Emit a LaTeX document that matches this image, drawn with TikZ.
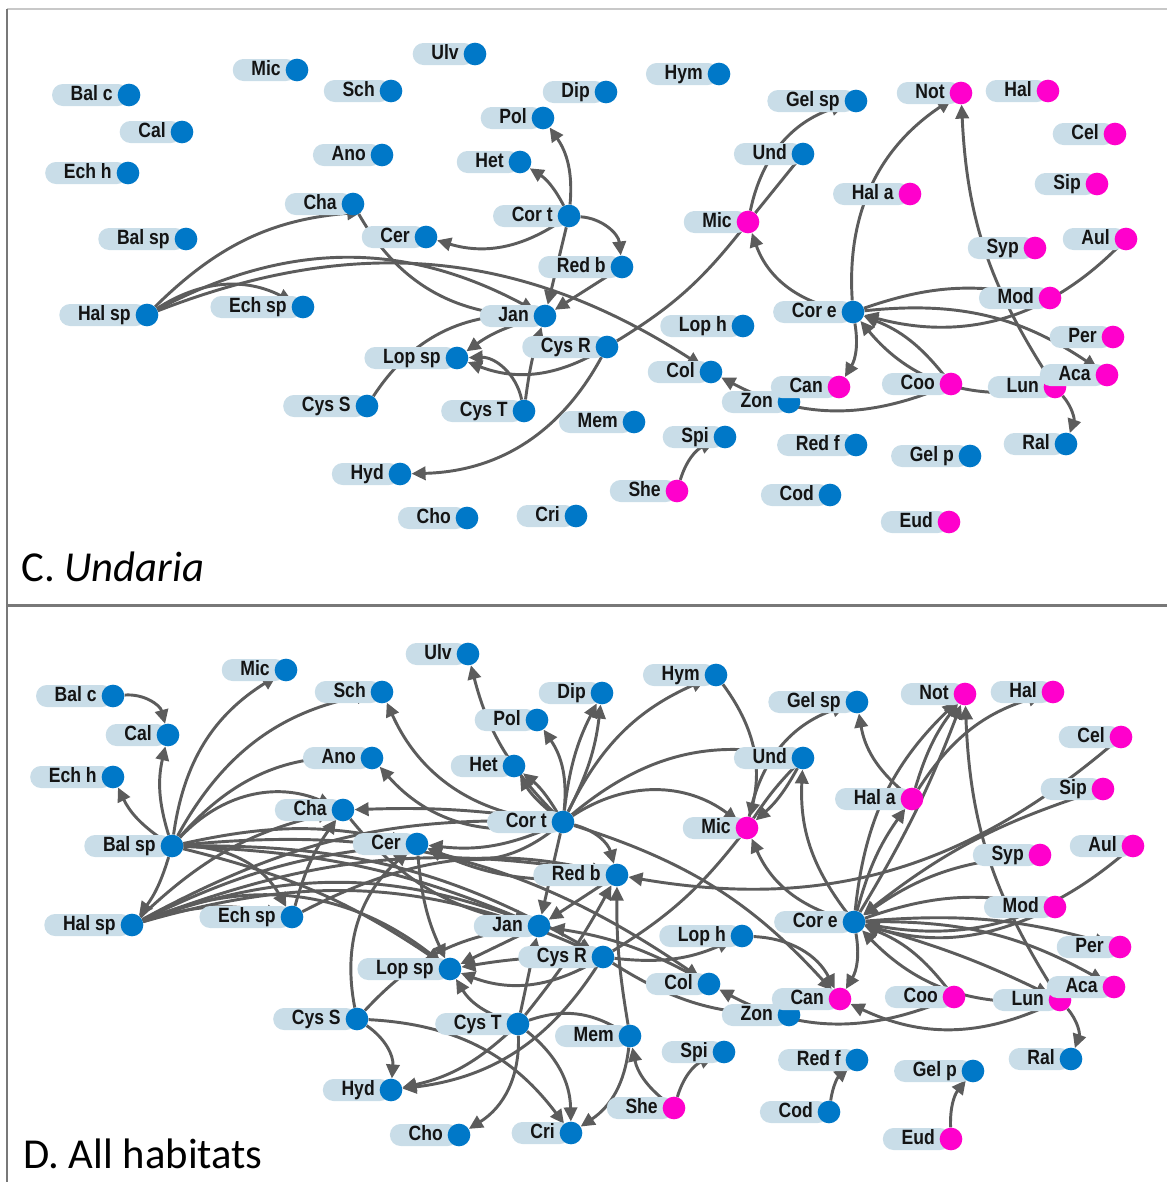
\documentclass[tikz,border=0pt]{standalone}
\usepackage{fontspec}
\newfontfamily\lblfont{Liberation Sans}[FakeStretch=0.85]
\newfontfamily\ttlfont{Carlito}
\usetikzlibrary{arrows.meta}
\pgfdeclarelayer{bg}
\pgfsetlayers{bg,main}
\definecolor{pillc}{RGB}{201,221,232}
\definecolor{bluec}{RGB}{0,120,200}
\definecolor{magc}{RGB}{255,0,204}
\definecolor{edgec}{RGB}{92,92,92}
\definecolor{txtc}{RGB}{20,20,20}
\definecolor{framelt}{RGB}{200,200,200}
\definecolor{framedk}{RGB}{120,120,120}
\newcommand\mknode[5]{%
 \node[pill, anchor=east] (#1p) at (#2,-#3) {\hspace*{14pt}#4\hspace*{12pt}};
 \node[dot, fill=#5] (#1) at (#2,-#3) {};}
\tikzset{
 pill/.style={fill=pillc, rounded corners=8pt, inner sep=0pt, minimum height=16.5pt,
   text height=11pt, text depth=3pt, text=txtc,
   font=\lblfont\bfseries\fontsize{15.5pt}{17pt}\selectfont},
 dot/.style={circle, inner sep=0pt, minimum size=17pt},
 ed/.style={draw=edgec, line width=2.2pt},
 ar/.style={ed, -{Triangle[length=10.5pt,width=10pt]}},
 ttl/.style={anchor=base west, inner sep=0pt, font=\ttlfont\fontsize{32pt}{38pt}\selectfont}
}
\begin{document}
\begin{tikzpicture}[x=0.75pt,y=0.75pt]
\useasboundingbox (0,0) rectangle (1167,-1182);
% frame
\draw[framelt, line width=1.5pt] (7,-9) -- (1167,-9);
\draw[framedk, line width=1.5pt] (7,-9) -- (7,-1182);
\draw[framedk, line width=2pt] (7,-605.5) -- (1167,-605.5);
\node[ttl] (tc) at (21,-581) {C. \textit{Undaria}};
\node[ttl] (td) at (23,-1168) {D. All habitats};

% ---------------- panel C nodes
\mknode{c-balc}{129}{95}{Bal c}{bluec}
\mknode{c-cal}{182}{132}{Cal}{bluec}
\mknode{c-echh}{128}{173}{Ech h}{bluec}
\mknode{c-balsp}{186}{239}{Bal sp}{bluec}
\mknode{c-halsp}{147}{315}{Hal sp}{bluec}
\mknode{c-echsp}{303}{307}{Ech sp}{bluec}
\mknode{c-mic}{297}{70}{Mic}{bluec}
\mknode{c-sch}{391}{91}{Sch}{bluec}
\mknode{c-ulv}{475}{54}{Ulv}{bluec}
\mknode{c-ano}{382}{155}{Ano}{bluec}
\mknode{c-cha}{353}{204}{Cha}{bluec}
\mknode{c-cer}{426}{237}{Cer}{bluec}
\mknode{c-dip}{606}{92}{Dip}{bluec}
\mknode{c-pol}{543}{118}{Pol}{bluec}
\mknode{c-het}{520}{162}{Het}{bluec}
\mknode{c-cort}{569}{216}{Cor t}{bluec}
\mknode{c-redb}{622}{267}{Red b}{bluec}
\mknode{c-jan}{545}{316}{Jan}{bluec}
\mknode{c-cysr}{607}{347}{Cys R}{bluec}
\mknode{c-lopsp}{457}{358}{Lop sp}{bluec}
\mknode{c-cyss}{367}{406}{Cys S}{bluec}
\mknode{c-cyst}{524}{411}{Cys T}{bluec}
\mknode{c-mem}{634}{422}{Mem}{bluec}
\mknode{c-hyd}{400}{474}{Hyd}{bluec}
\mknode{c-cho}{467}{518}{Cho}{bluec}
\mknode{c-cri}{576}{516}{Cri}{bluec}
\mknode{c-hym}{719}{74}{Hym}{bluec}
\mknode{c-gelsp}{856}{101}{Gel sp}{bluec}
\mknode{c-und}{803}{154}{Und}{bluec}
\mknode{c-micm}{748}{222}{Mic}{magc}
\mknode{c-not}{961}{93}{Not}{magc}
\mknode{c-hal}{1048}{91}{Hal}{magc}
\mknode{c-cel}{1115}{134}{Cel}{magc}
\mknode{c-sip}{1097}{184}{Sip}{magc}
\mknode{c-hala}{910}{194}{Hal a}{magc}
\mknode{c-syp}{1035}{248}{Syp}{magc}
\mknode{c-aul}{1126}{239}{Aul}{magc}
\mknode{c-mod}{1050}{298}{Mod}{magc}
\mknode{c-core}{853}{312}{Cor e}{bluec}
\mknode{c-loph}{743}{326}{Lop h}{bluec}
\mknode{c-per}{1113}{337}{Per}{magc}
\mknode{c-col}{711}{372}{Col}{bluec}
\mknode{c-zon}{789}{402}{Zon}{bluec}
\mknode{c-can}{839}{387}{Can}{magc}
\mknode{c-coo}{951}{384}{Coo}{magc}
\mknode{c-lun}{1055}{387}{Lun}{magc}
\mknode{c-aca}{1107}{375}{Aca}{magc}
\mknode{c-spi}{725}{437}{Spi}{bluec}
\mknode{c-redf}{856}{445}{Red f}{bluec}
\mknode{c-ral}{1066}{444}{Ral}{bluec}
\mknode{c-gelp}{970}{456}{Gel p}{bluec}
\mknode{c-she}{677}{491}{She}{magc}
\mknode{c-cod}{830}{495}{Cod}{bluec}
\mknode{c-eud}{949}{522}{Eud}{magc}

% ---------------- panel D nodes
\mknode{d-balc}{113}{696}{Bal c}{bluec}
\mknode{d-cal}{168}{735}{Cal}{bluec}
\mknode{d-echh}{113}{777}{Ech h}{bluec}
\mknode{d-balsp}{172}{846}{Bal sp}{bluec}
\mknode{d-halsp}{132}{925}{Hal sp}{bluec}
\mknode{d-echsp}{292}{917}{Ech sp}{bluec}
\mknode{d-mic}{286}{670}{Mic}{bluec}
\mknode{d-sch}{382}{692}{Sch}{bluec}
\mknode{d-ulv}{468}{654}{Ulv}{bluec}
\mknode{d-ano}{372}{758}{Ano}{bluec}
\mknode{d-cha}{343}{810}{Cha}{bluec}
\mknode{d-cer}{417}{844}{Cer}{bluec}
\mknode{d-dip}{602}{693}{Dip}{bluec}
\mknode{d-pol}{537}{720}{Pol}{bluec}
\mknode{d-het}{514}{766}{Het}{bluec}
\mknode{d-cort}{563}{822}{Cor t}{bluec}
\mknode{d-hym}{716}{675}{Hym}{bluec}
\mknode{d-redb}{617}{875}{Red b}{bluec}
\mknode{d-jan}{539}{926}{Jan}{bluec}
\mknode{d-cysr}{603}{957}{Cys R}{bluec}
\mknode{d-lopsp}{450}{969}{Lop sp}{bluec}
\mknode{d-cyss}{357}{1019}{Cys S}{bluec}
\mknode{d-cyst}{518}{1024}{Cys T}{bluec}
\mknode{d-mem}{630}{1036}{Mem}{bluec}
\mknode{d-hyd}{391}{1090}{Hyd}{bluec}
\mknode{d-cho}{459}{1135}{Cho}{bluec}
\mknode{d-cri}{571}{1133}{Cri}{bluec}
\mknode{d-she}{674}{1108}{She}{magc}
\mknode{d-spi}{724}{1052}{Spi}{bluec}
\mknode{d-gelsp}{857}{702}{Gel sp}{bluec}
\mknode{d-und}{803}{758}{Und}{bluec}
\mknode{d-micm}{747}{828}{Mic}{magc}
\mknode{d-not}{965}{694}{Not}{magc}
\mknode{d-hal}{1053}{692}{Hal}{magc}
\mknode{d-cel}{1121}{737}{Cel}{magc}
\mknode{d-sip}{1103}{789}{Sip}{magc}
\mknode{d-hala}{912}{799}{Hal a}{magc}
\mknode{d-syp}{1040}{855}{Syp}{magc}
\mknode{d-aul}{1133}{846}{Aul}{magc}
\mknode{d-mod}{1055}{907}{Mod}{magc}
\mknode{d-core}{854}{922}{Cor e}{bluec}
\mknode{d-loph}{742}{936}{Lop h}{bluec}
\mknode{d-per}{1120}{947}{Per}{magc}
\mknode{d-col}{709}{984}{Col}{bluec}
\mknode{d-zon}{789}{1015}{Zon}{bluec}
\mknode{d-can}{840}{999}{Can}{magc}
\mknode{d-coo}{954}{997}{Coo}{magc}
\mknode{d-lun}{1060}{1000}{Lun}{magc}
\mknode{d-aca}{1114}{987}{Aca}{magc}
\mknode{d-redf}{857}{1060}{Red f}{bluec}
\mknode{d-ral}{1071}{1059}{Ral}{bluec}
\mknode{d-gelp}{973}{1071}{Gel p}{bluec}
\mknode{d-cod}{829}{1112}{Cod}{bluec}
\mknode{d-eud}{951}{1139}{Eud}{magc}

\begin{pgfonlayer}{bg}
% ---------------- panel C edges
\draw[ar] (c-halsp) to[bend left=20] (c-cha.south east);
\draw[ar] (c-halsp) to[bend left=30] (c-echsp);
\draw[ar] (c-halsp) to[bend left=28] (c-jan);
\draw[ar] (c-halsp) to[bend left=27] (c-col);
\draw[ed] (c-cha) to[bend right=30] (c-jan);
\draw[ar] (c-cort) to[bend right=20] (c-pol);
\draw[ar] (c-cort) to[bend right=15] (c-het);
\draw[ar] (c-cort) to[bend left=25] (c-cer);
\draw[ar] (c-cort) to[bend left=40] (c-redb);
\draw[ar] (c-cort) -- (c-jan);
\draw[ar] (c-redb) -- (c-jan);
\draw[ed] (c-cyss) to[bend left=30] (c-jan);
\draw[ar] (c-jan) to[bend right=10] (c-lopsp);
\draw[ar] (c-cyst) to[bend right=40] (c-lopsp);
\draw[ar] (c-cysr) to[bend left=25] (c-lopsp);
\draw[ar] (c-cyst) to[bend left=5] (c-jan);
\draw[ar] (c-cysr) to[bend left=30] (c-hyd);
\draw[ed] (c-cysr) to[bend right=10] (c-micm);
\draw[ar] (c-core) to[bend left=30] (c-micm);
\draw[ar] (c-micm) to[bend left=30] (c-gelsp);
\draw[ed] (c-micm) -- (c-und);
\draw[ar] (c-core) to[bend left=30] (c-not);
\draw[ar] (c-lun) to[bend left=15] (c-not);
\draw[ar] (c-aul) to[bend left=30] (c-core);
\draw[ed] (c-core) to[bend left=15] (c-mod);
\draw[ar] (c-core) to[bend left=20] (c-aca);
\draw[ar] (c-coo) to[bend right=15] (c-core);
\draw[ar] (c-lun) to[bend left=30] (c-core);
\draw[ar] (c-coo) to[bend left=25] (c-col);
\draw[ar] (c-core) to[bend left=20] (c-can);
\draw[ar] (c-lun) to[bend left=30] (c-ral);
\draw[ar] (c-she) to[bend left=25] (c-spi);

% ---------------- panel D edges
\draw[ar] (d-balc) to[bend left=40] (d-cal);
\draw[ar] (d-balsp) to[bend left=15] (d-cal);
\draw[ar] (d-balsp) to[bend left=15] (d-echh);
\draw[ar] (d-balsp) to[bend left=25] (d-mic);
\draw[ar] (d-balsp) to[bend left=25] (d-sch);
\draw[ar] (d-balsp) to[bend left=25] (d-ano);
\draw[ar] (d-balsp) to[bend left=35] (d-cha);
\draw[ar] (d-balsp) to[bend left=10] (d-halsp);
\draw[ar] (d-balsp) to[bend left=30] (d-echsp);
\draw[ar] (d-balsp) to[bend left=12] (d-cer);
\draw[ar] (d-balsp) to[bend left=10] (d-jan);
\draw[ar] (d-balsp) to[bend left=10] (d-lopsp);
\draw[ar] (d-balsp) to[bend left=15] (d-cysr);
\draw[ar] (d-balsp) to[bend left=20] (d-col);
\draw[ar] (d-halsp) to[bend left=15] (d-cha);
\draw[ar] (d-halsp) to[bend left=10] (d-cer);
\draw[ar] (d-halsp) to[bend left=15] (d-echsp);
\draw[ar] (d-halsp) to[bend left=30] (d-lopsp);
\draw[ar] (d-halsp) to[bend left=20] (d-jan);
\draw[ar] (d-halsp) to[bend left=20] (d-cysr);
\draw[ar] (d-halsp) to[bend left=15] (d-redb);
\draw[ar] (d-halsp) to[bend left=15] (d-cort);
\draw[ar] (d-echsp) to[bend left=10] (d-cha);
\draw[ar] (d-echsp) to[bend left=20] (d-redb);
\draw[ed] (d-cha) to[bend right=20] (d-jan);
\draw[ar] (d-cer) to[bend right=10] (d-lopsp);
\draw[ar] (d-cyss) to[bend left=30] (d-cer);
\draw[ar] (d-cyss) to[bend left=30] (d-hyd);
\draw[ed] (d-cyss) to[bend left=20] (d-jan);
\draw[ar] (d-cyss) to[bend left=25] (d-cri);
\draw[ar] (d-cort) to[bend left=30] (d-sch);
\draw[ar] (d-cort) to[bend left=30] (d-ano);
\draw[ar] (d-cort) to[bend left=15] (d-ulv);
\draw[ar] (d-cort) to[bend right=10] (d-het);
\draw[ar] (d-cort) to[bend left=10] (d-het);
\draw[ar] (d-cort) to[bend right=20] (d-pol);
\draw[ar] (d-cort) to[bend right=10] (d-dip);
\draw[ar] (d-cort) to[bend left=10] (d-dip);
\draw[ar] (d-cort) to[bend left=20] (d-hym);
\draw[ar] (d-cort) to[bend left=35] (d-micm);
\draw[ar] (d-cort) to[bend left=25] (d-und);
\draw[ar] (d-cort) to[bend left=15] (d-cer);
\draw[ar] (d-cort) to[bend left=30] (d-cer);
\draw[ar] (d-cort) to[bend right=5] (d-cha);
\draw[ar] (d-cort) to[bend left=30] (d-redb);
\draw[ar] (d-cort) to[bend left=15] (d-can);
\draw[ar] (d-cort) -- (d-jan);
\draw[ar] (d-redb) to[bend left=15] (d-cer);
\draw[ar] (d-redb) -- (d-jan);
\draw[ar] (d-hym) to[bend left=25] (d-micm);
\draw[ar] (d-und) to[bend left=10] (d-micm);
\draw[ed] (d-micm) to[bend left=5] (d-und);
\draw[ar] (d-micm) to[bend left=30] (d-gelsp);
\draw[ar] (d-core) to[bend left=20] (d-und);
\draw[ar] (d-core) to[bend left=25] (d-micm);
\draw[ar] (d-hala) to[bend left=20] (d-gelsp);
\draw[ar] (d-hala) to[bend left=10] (d-not);
\draw[ar] (d-hala) to[bend left=20] (d-hal);
\draw[ar] (d-core) to[bend left=20] (d-not);
\draw[ar] (d-core) to[bend right=5] (d-not);
\draw[ar] (d-lun) to[bend left=15] (d-not);
\draw[ar] (d-core) to[bend left=10] (d-hala);
\draw[ar] (d-cel) to[bend left=25] (d-redb);
\draw[ar] (d-sip) to[bend right=10] (d-core);
\draw[ar] (d-syp) to[bend right=15] (d-core);
\draw[ar] (d-aul) to[bend left=25] (d-core);
\draw[ed] (d-core) to[bend left=15] (d-mod);
\draw[ar] (d-mod) to[bend left=20] (d-core);
\draw[ar] (d-core) to[bend left=10] (d-per);
\draw[ar] (d-core) to[bend left=15] (d-aca);
\draw[ar] (d-core) to[bend left=5] (d-lun);
\draw[ar] (d-coo) to[bend right=15] (d-core);
\draw[ar] (d-lun) to[bend left=25] (d-core);
\draw[ar] (d-loph) to[bend left=30] (d-can);
\draw[ar] (d-core) to[bend left=20] (d-can);
\draw[ar] (d-lun) to[bend left=25] (d-can);
\draw[ar] (d-coo) to[bend left=25] (d-col);
\draw[ar] (d-lun) to[bend left=30] (d-ral);
\draw[ar] (d-cod) to[bend left=20] (d-redf);
\draw[ar] (d-eud) to[bend left=20] (d-gelp);
\draw[ar] (d-she) to[bend left=25] (d-spi);
\draw[ar] (d-she) to[bend left=20] (d-mem);
\draw[ar] (d-cyst) to[bend left=25] (d-cri);
\draw[ar] (d-mem) to[bend left=25] (d-cri);
\draw[ar] (d-cyst) to[bend left=30] (d-cho);
\draw[ar] (d-cyst) to[bend left=15] (d-hyd);
\draw[ar] (d-cysr) to[bend left=25] (d-hyd);
\draw[ar] (d-cyst) to[bend left=20] (d-lopsp);
\draw[ar] (d-cyst) -- (d-jan);
\draw[ar] (d-cyst) to[bend right=5] (d-redb);
\draw[ar] (d-mem) to[bend left=5] (d-redb);
\draw[ed] (d-cyst) to[bend left=25] (d-mem);
\draw[ar] (d-jan) -- (d-lopsp);
\draw[ar] (d-cysr) to[bend right=5] (d-lopsp);
\draw[ar] (d-cysr) to[bend left=25] (d-lopsp);
\draw[ar] (d-cysr) to[bend right=15] (d-loph);
\draw[ar] (d-cysr) to[bend right=15] (d-zon);
\draw[ar] (d-col) to[bend right=10] (d-jan);
\draw[ed] (d-cysr) to[bend right=10] (d-micm);
\end{pgfonlayer}
\end{tikzpicture}
\end{document}
